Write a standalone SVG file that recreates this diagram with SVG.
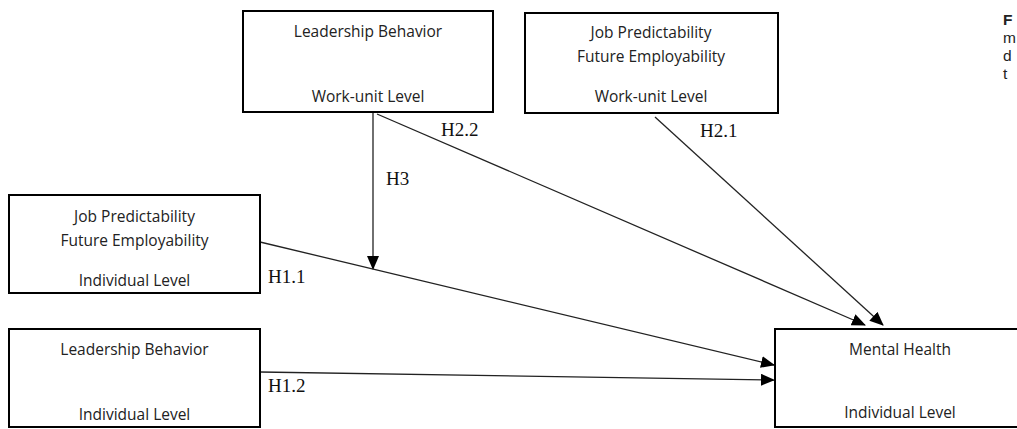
<svg xmlns="http://www.w3.org/2000/svg" width="1017" height="429" viewBox="0 0 1017 429">
  <style>
    .box { fill: #ffffff; stroke: #000000; stroke-width: 2; }
    .lbl { font-family: "Open Sans", "Noto Sans", sans-serif; font-size: 15.5px; fill: #222222; text-anchor: middle; }
    .hyp { font-family: "Liberation Serif", "Times New Roman", serif; font-size: 19px; fill: #111111; }
    .edge { stroke: #222222; stroke-width: 1.3; fill: none; marker-end: url(#arrow); }
    .cap { font-family: "Liberation Sans", Arial, sans-serif; font-size: 15.5px; fill: #222222; }
  </style>
  <defs>
    <marker id="arrow" markerUnits="userSpaceOnUse" markerWidth="14" markerHeight="12" refX="13" refY="6" orient="auto">
      <path d="M0,0 L14,6 L0,12 Z" fill="#000000"/>
    </marker>
  </defs>
  <rect width="1017" height="429" fill="#ffffff"/>

  <!-- connectors -->
  <g id="connectors">
    <line id="h3" class="edge" x1="373" y1="113" x2="373" y2="269"/>
    <line id="h2-2" class="edge" x1="377" y1="114" x2="865" y2="325"/>
    <line id="h2-1" class="edge" x1="655" y1="117" x2="883" y2="325"/>
    <line id="h1-1" class="edge" x1="260" y1="242" x2="774" y2="365"/>
    <line id="h1-2" class="edge" x1="260" y1="372" x2="774" y2="380"/>
  </g>

  <!-- hypothesis labels -->
  <g id="hypotheses">
    <text class="hyp" x="441" y="136">H2.2</text>
    <text class="hyp" x="700" y="137">H2.1</text>
    <text class="hyp" x="386" y="185">H3</text>
    <text class="hyp" x="268" y="283">H1.1</text>
    <text class="hyp" x="268" y="392">H1.2</text>
  </g>

  <g id="leader-unit">
    <rect class="box" x="243" y="11" width="250" height="101"/>
    <text class="lbl" x="368" y="37">Leadership Behavior</text>
    <text class="lbl" x="368" y="102">Work-unit Level</text>
  </g>

  <g id="job-unit">
    <rect class="box" x="525" y="13" width="253" height="100"/>
    <text class="lbl" x="651" y="38">Job Predictability</text>
    <text class="lbl" x="651" y="62">Future Employability</text>
    <text class="lbl" x="651" y="102">Work-unit Level</text>
  </g>

  <g id="job-individual">
    <rect class="box" x="9" y="195" width="251" height="98"/>
    <text class="lbl" x="134.5" y="222">Job Predictability</text>
    <text class="lbl" x="134.5" y="246">Future Employability</text>
    <text class="lbl" x="134.5" y="286">Individual Level</text>
  </g>

  <g id="leader-individual">
    <rect class="box" x="9" y="329" width="251" height="98"/>
    <text class="lbl" x="134.5" y="355">Leadership Behavior</text>
    <text class="lbl" x="134.5" y="420">Individual Level</text>
  </g>

  <g id="mental-health">
    <rect class="box" x="775" y="329" width="250" height="98"/>
    <text class="lbl" x="900" y="355">Mental Health</text>
    <text class="lbl" x="900" y="418">Individual Level</text>
  </g>

  <!-- caption running off the right edge -->
  <g id="caption">
    <text class="cap" x="1003" y="25" font-weight="bold">F</text>
    <text class="cap" x="1003" y="43">m</text>
    <text class="cap" x="1003" y="61">d</text>
    <text class="cap" x="1003" y="79">t</text>
  </g>
</svg>
